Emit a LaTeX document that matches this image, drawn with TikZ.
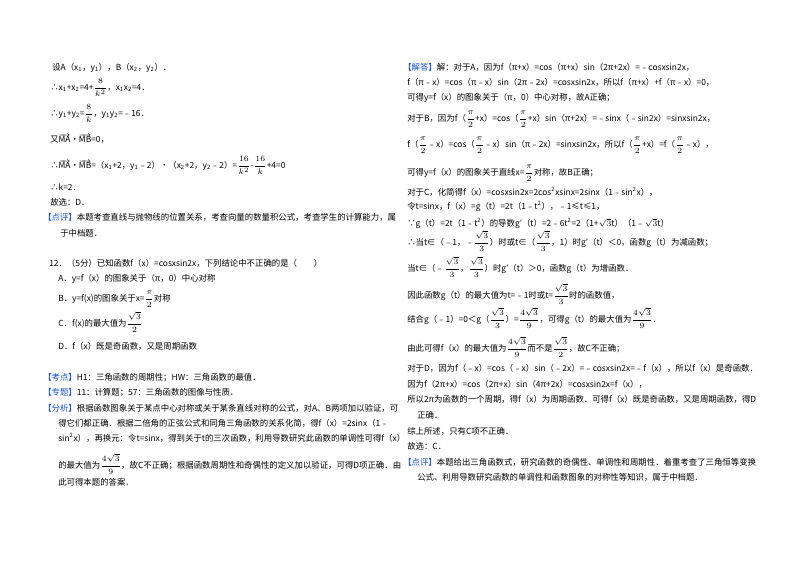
\documentclass[tikz,border=0pt]{standalone}
\usepackage{fontspec}
\setmainfont{Noto Sans CJK SC}
\definecolor{hd}{RGB}{20,80,220}
\newcommand{\fr}[2]{{\fontsize{5.6}{6}\selectfont$\displaystyle\frac{#1}{#2}$}}
\newcommand{\vc}[1]{$\overrightarrow{\mathrm{#1}}$}
\newcommand{\hh}[1]{\textcolor{hd}{【#1】}}
\newcommand{\sq}{\sqrt{3}}
\begin{document}
\begin{tikzpicture}[x=0.75pt,y=-0.75pt,
  t/.style={anchor=base west,inner sep=0pt,font=\fontsize{6.3}{7.5}\selectfont}]
\useasboundingbox (0,0) rectangle (800,565);
\fill[white] (0,0) rectangle (800,565);
% left column
\node[t] (l1) at (52,70) {设A（x\textsubscript{1}，y\textsubscript{1}），B（x\textsubscript{2}，y\textsubscript{2}）．};
\node[t] (l2) at (50,90) {∴x\textsubscript{1}+x\textsubscript{2}=4+\fr{8}{k^2}，x\textsubscript{1}x\textsubscript{2}=4．};
\node[t] (l3) at (50,116) {∴y\textsubscript{1}+y\textsubscript{2}=\fr{8}{k}，y\textsubscript{1}y\textsubscript{2}=﹣16．};
\node[t] (l4) at (50,142) {又\vc{MA}•\vc{MB}=0，};
\node[t] (l5) at (50,168) {∴\vc{MA}•\vc{MB}=（x\textsubscript{1}+2，y\textsubscript{1}﹣2）•（x\textsubscript{2}+2，y\textsubscript{2}﹣2）=\fr{16}{k^2}-\fr{16}{k}+4=0};
\node[t] (l6) at (50,190) {∴k=2．};
\node[t] (l7) at (50,205) {故选：D．};
\node[t] (l8) at (43,220) {\hh{点评}本题考查直线与抛物线的位置关系，考查向量的数量积公式，考查学生的计算能力，属};
\node[t] (l9) at (60,236) {于中档题．};
\node[t] (q0) at (49,266) {12．（5分）已知函数f（x）=cosxsin2x，下列结论中不正确的是（　　）};
\node[t] (qa) at (58,281) {A．y=f（x）的图象关于（π，0）中心对称};
\node[t] (qb) at (58,301) {B．y=f(x)的图象关于x=\fr{\pi}{2}对称};
\node[t] (qc) at (58,326) {C．f(x)的最大值为\fr{\sq}{2}};
\node[t] (qd) at (58,349) {D．f（x）既是奇函数，又是周期函数};
\node[t] (k1) at (43,380) {\hh{考点}H1：三角函数的周期性；HW：三角函数的最值．};
\node[t] (k2) at (43,395) {\hh{专题}11：计算题；57：三角函数的图像与性质．};
\node[t] (k3) at (43,411) {\hh{分析}根据函数图象关于某点中心对称或关于某条直线对称的公式，对A、B两项加以验证，可};
\node[t] (k4) at (58,426) {得它们都正确．根据二倍角的正弦公式和同角三角函数的关系化简，得f（x）=2sinx（1﹣};
\node[t] (k5) at (58,441) {sin\textsuperscript{2}x），再换元：令t=sinx，得到关于t的三次函数，利用导数研究此函数的单调性可得f（x）};
\node[t] (k6) at (58,468) {的最大值为\fr{4\sq}{9}，故C不正确；根据函数周期性和奇偶性的定义加以验证，可得D项正确．由};
\node[t] (k7) at (58,485) {此可得本题的答案．};
% right column
\node[t] (r1) at (403,70) {\hh{解答}解：对于A，因为f（π+x）=cos（π+x）sin（2π+2x）=﹣cosxsin2x，};
\node[t] (r2) at (407,85) {f（π﹣x）=cos（π﹣x）sin（2π﹣2x）=cosxsin2x，所以f（π+x）+f（π﹣x）=0，};
\node[t] (r3) at (407,100) {可得y=f（x）的图象关于（π，0）中心对称，故A正确；};
\node[t] (r4) at (407,121) {对于B，因为f（\fr{\pi}{2}+x）=cos（\fr{\pi}{2}+x）sin（π+2x）=﹣sinx（﹣sin2x）=sinxsin2x，};
\node[t] (r5) at (407,147) {f（\fr{\pi}{2}﹣x）=cos（\fr{\pi}{2}﹣x）sin（π﹣2x）=sinxsin2x，所以f（\fr{\pi}{2}+x）=f（\fr{\pi}{2}﹣x），};
\node[t] (r6) at (407,175) {可得y=f（x）的图象关于直线x=\fr{\pi}{2}对称，故B正确；};
\node[t] (r7) at (407,195) {对于C，化简得f（x）=cosxsin2x=2cos\textsuperscript{2}xsinx=2sinx（1﹣sin\textsuperscript{2}x），};
\node[t] (r8) at (407,209) {令t=sinx，f（x）=g（t）=2t（1﹣t\textsuperscript{2}），﹣1≤t≤1，};
\node[t] (r9) at (407,226) {∵g（t）=2t（1﹣t\textsuperscript{2}）的导数g′（t）=2﹣6t\textsuperscript{2}=2（1+$\sqrt{3}$t）（1﹣$\sqrt{3}$t）};
\node[t] (r10) at (407,245) {∴当t∈（﹣1，﹣\fr{\sq}{3}）时或t∈（\fr{\sq}{3}，1）时g′（t）＜0，函数g（t）为减函数；};
\node[t] (r11) at (407,271) {当t∈（﹣\fr{\sq}{3}，\fr{\sq}{3}）时g′（t）＞0，函数g（t）为增函数．};
\node[t] (r12) at (407,298) {因此函数g（t）的最大值为t=﹣1时或t=\fr{\sq}{3}时的函数值，};
\node[t] (r13) at (407,322) {结合g（﹣1）=0＜g（\fr{\sq}{3}）=\fr{4\sq}{9}，可得g（t）的最大值为\fr{4\sq}{9}．};
\node[t] (r14) at (407,351) {由此可得f（x）的最大值为\fr{4\sq}{9}而不是\fr{\sq}{2}，故C不正确；};
\node[t] (r15) at (407,371) {对于D，因为f（﹣x）=cos（﹣x）sin（﹣2x）=﹣cosxsin2x=﹣f（x），所以f（x）是奇函数．};
\node[t] (r16) at (407,387) {因为f（2π+x）=cos（2π+x）sin（4π+2x）=cosxsin2x=f（x），};
\node[t] (r17) at (407,402) {所以2π为函数的一个周期，得f（x）为周期函数．可得f（x）既是奇函数，又是周期函数，得D};
\node[t] (r18) at (417,418) {正确．};
\node[t] (r19) at (407,434) {综上所述，只有C项不正确．};
\node[t] (r20) at (407,449) {故选：C．};
\node[t] (r21) at (403,465) {\hh{点评}本题给出三角函数式，研究函数的奇偶性、单调性和周期性．着重考查了三角恒等变换};
\node[t] (r22) at (417,480) {公式、利用导数研究函数的单调性和函数图象的对称性等知识，属于中档题．};
\end{tikzpicture}
\end{document}
